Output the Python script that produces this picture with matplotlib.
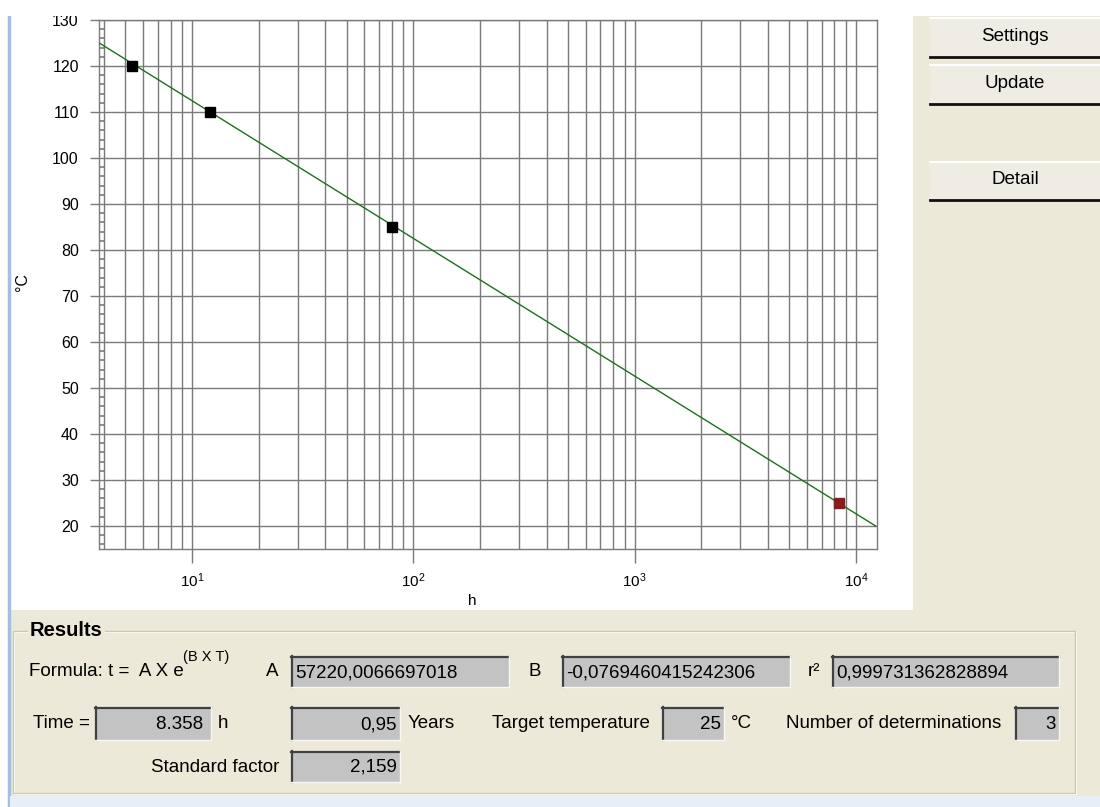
import numpy as np
import matplotlib
matplotlib.use('Agg')
import matplotlib.pyplot as plt
from matplotlib.patches import Rectangle
from matplotlib.lines import Line2D
from matplotlib.ticker import LogLocator, MultipleLocator, FuncFormatter, NullFormatter

# measured points (temperature in degC, time in h)
temps = [120, 110, 85]
hours = [5.35, 12.0, 80.0]

# fit t = A * exp(B * T) and the extrapolated target point
coef_a = 57220.0066697018
coef_b = -0.0769460415242306
r_squared = 0.999731362828894
fit_temps = [125, 20]
target_temp = 25
target_hours = 8358
target_years = 0.95
std_factor = 2.159
n_determinations = 3

y_ticks = list(range(20, 131, 10))

plt.rcParams['font.family'] = ['Liberation Sans', 'DejaVu Sans']
plt.rcParams['mathtext.fontset'] = 'custom'
plt.rcParams['mathtext.rm'] = 'Liberation Sans'
plt.rcParams['mathtext.it'] = 'Liberation Sans'

W, H = 1100, 807
BEIGE = '#ECE9D8'
GRID = '#7a7a7a'
UI_SIZE = 13.5

fig = plt.figure(figsize=(W / 100, H / 100), dpi=100, facecolor=BEIGE)


def fx(x):
    return x / W


def fy(y):
    return 1 - y / H


def rect(x0, y0, x1, y1, **kw):
    kw.setdefault('zorder', -5)
    fig.add_artist(Rectangle((fx(x0), fy(y1)), (x1 - x0) / W, (y1 - y0) / H,
                             transform=fig.transFigure, **kw))


def line(xs, ys, **kw):
    fig.add_artist(Line2D([fx(x) for x in xs], [fy(y) for y in ys],
                          transform=fig.transFigure, **kw))


def label(x, y, s, **kw):
    kw.setdefault('fontsize', UI_SIZE)
    kw.setdefault('va', 'center')
    fig.text(fx(x), fy(y), s, **kw)


def field(x0, y0, x1, y1, text, align='right'):
    rect(x0, y0, x1, y1, facecolor='#c3c3c3', edgecolor='none', zorder=2)
    line([x0, x1], [y0 + 1, y0 + 1], color='#404040', lw=1.6, zorder=3)
    line([x0 + 1, x0 + 1], [y0, y1], color='#404040', lw=1.6, zorder=3)
    line([x0, x1], [y1, y1], color='#f8f8f8', lw=1, zorder=3)
    line([x1, x1], [y0, y1], color='#f8f8f8', lw=1, zorder=3)
    if align == 'right':
        label(x1 - 3, (y0 + y1) / 2 + 1, text, ha='right')
    else:
        label(x0 + 4, (y0 + y1) / 2 + 1, text, ha='left')


def button(y0, y1, text):
    rect(930, y0, 1100, y1, facecolor='#efede3', edgecolor='none', zorder=1)
    line([930, 1100], [y0, y0], color='white', lw=1.5, zorder=2)
    line([930, 1100], [y1, y1], color='#111111', lw=2, zorder=2)
    label(1015, (y0 + y1) / 2 - 1, text, ha='center')


# window frame and plot panel
rect(0, 0, W, 16, facecolor='white', edgecolor='none', zorder=10)
rect(0, 16, 8, H, facecolor='white', edgecolor='none')
line([8.5, 8.5], [16, H], color='#9fc0e6', lw=2.5, zorder=1)
rect(10, 16, 913, 610, facecolor='white', edgecolor='none')
rect(10, 796, W, H, facecolor='#e6eef7', edgecolor='none', zorder=1)

# chart
ax = fig.add_axes([fx(99), fy(549), (877 - 99) / W, (549 - 20) / H])
ax.set_xscale('log')
ax.set_xlim(3.795, 12450)
ax.set_ylim(15, 130)

fit_hours = [coef_a * np.exp(coef_b * t) for t in fit_temps]
ax.plot(fit_hours, fit_temps, color='#1f6f1f', lw=1.0, zorder=3)
ax.plot(hours, temps, 's', color='black', ms=6.5, zorder=4)
ax.plot([target_hours], [target_temp], 's', color='#8b1c1c', ms=6.5, zorder=4)

ax.set_yticks(y_ticks)
ax.yaxis.set_minor_locator(MultipleLocator(2))
ax.xaxis.set_major_locator(LogLocator(10, numticks=10))
ax.xaxis.set_minor_locator(LogLocator(10, subs=np.arange(2, 10), numticks=10))
ax.xaxis.set_major_formatter(FuncFormatter(lambda v, p: r'$10^{%d}$' % round(np.log10(v))))
ax.xaxis.set_minor_formatter(NullFormatter())

ax.grid(which='both', axis='x', color=GRID, lw=1.0)
ax.grid(which='major', axis='y', color=GRID, lw=1.0)
ax.set_axisbelow(True)
ax.tick_params(axis='x', which='major', length=10, width=1, color=GRID, pad=6, labelsize=11)
ax.tick_params(axis='x', which='minor', length=0)
ax.tick_params(axis='y', which='major', length=6.5, width=1, color=GRID, pad=8, labelsize=11.5)
ax.tick_params(axis='y', which='minor', direction='in', length=4.5, width=1.2, color=GRID)
for sp in ax.spines.values():
    sp.set_color(GRID)
    sp.set_linewidth(1.0)

ax.set_xlabel('h', fontsize=11)
ax.xaxis.set_label_coords((472 - 99) / (877 - 99), -(594 - 549) / (549 - 20))
ax.set_ylabel('°C', fontsize=11.5)
ax.yaxis.set_label_coords(-(99 - 30) / (877 - 99), (549 - 282) / (549 - 20))

# buttons
button(18, 57, 'Settings')
button(65, 104, 'Update')
button(162, 200, 'Detail')

# results group
rect(13, 631, 1075, 793, facecolor='none', edgecolor='#c9c7b8', lw=1, zorder=1)
rect(14, 632, 1076, 794, facecolor='none', edgecolor='white', lw=0.8, zorder=0)
label(30, 630, 'Results', fontweight='bold', fontsize=14.5,
      bbox=dict(facecolor=BEIGE, edgecolor='none', pad=1.5))

label(29, 671, 'Formula: t =  A X e')
label(183, 657, '(B X T)', fontsize=10.5)
label(266, 671, 'A')
field(291, 656, 509, 687, f'{coef_a:.10f}'.replace('.', ','), align='left')
label(529, 671, 'B')
field(562, 656, 790, 687, f'{coef_b:.16f}'.replace('.', ','), align='left')
label(808, 671, 'r²')
field(832, 656, 1059, 687, f'{r_squared:.15f}'.replace('.', ','), align='left')

label(33, 724, 'Time =')
field(95, 707, 211, 740, f'{target_hours:,}'.replace(',', '.') + ' ')
label(218, 724, 'h')
field(291, 707, 400, 740, f'{target_years:.2f}'.replace('.', ','))
label(408, 724, 'Years')
label(650, 724, 'Target temperature', ha='right')
field(662, 707, 724, 740, f'{target_temp}')
label(731, 724, '°C')
label(786, 724, 'Number of determinations')
field(1015, 707, 1059, 740, f'{n_determinations}')

label(279, 767, 'Standard factor', ha='right')
field(291, 751, 400, 782, f'{std_factor:.3f}'.replace('.', ','))

fig.savefig('out.png', dpi=100, facecolor=BEIGE)
